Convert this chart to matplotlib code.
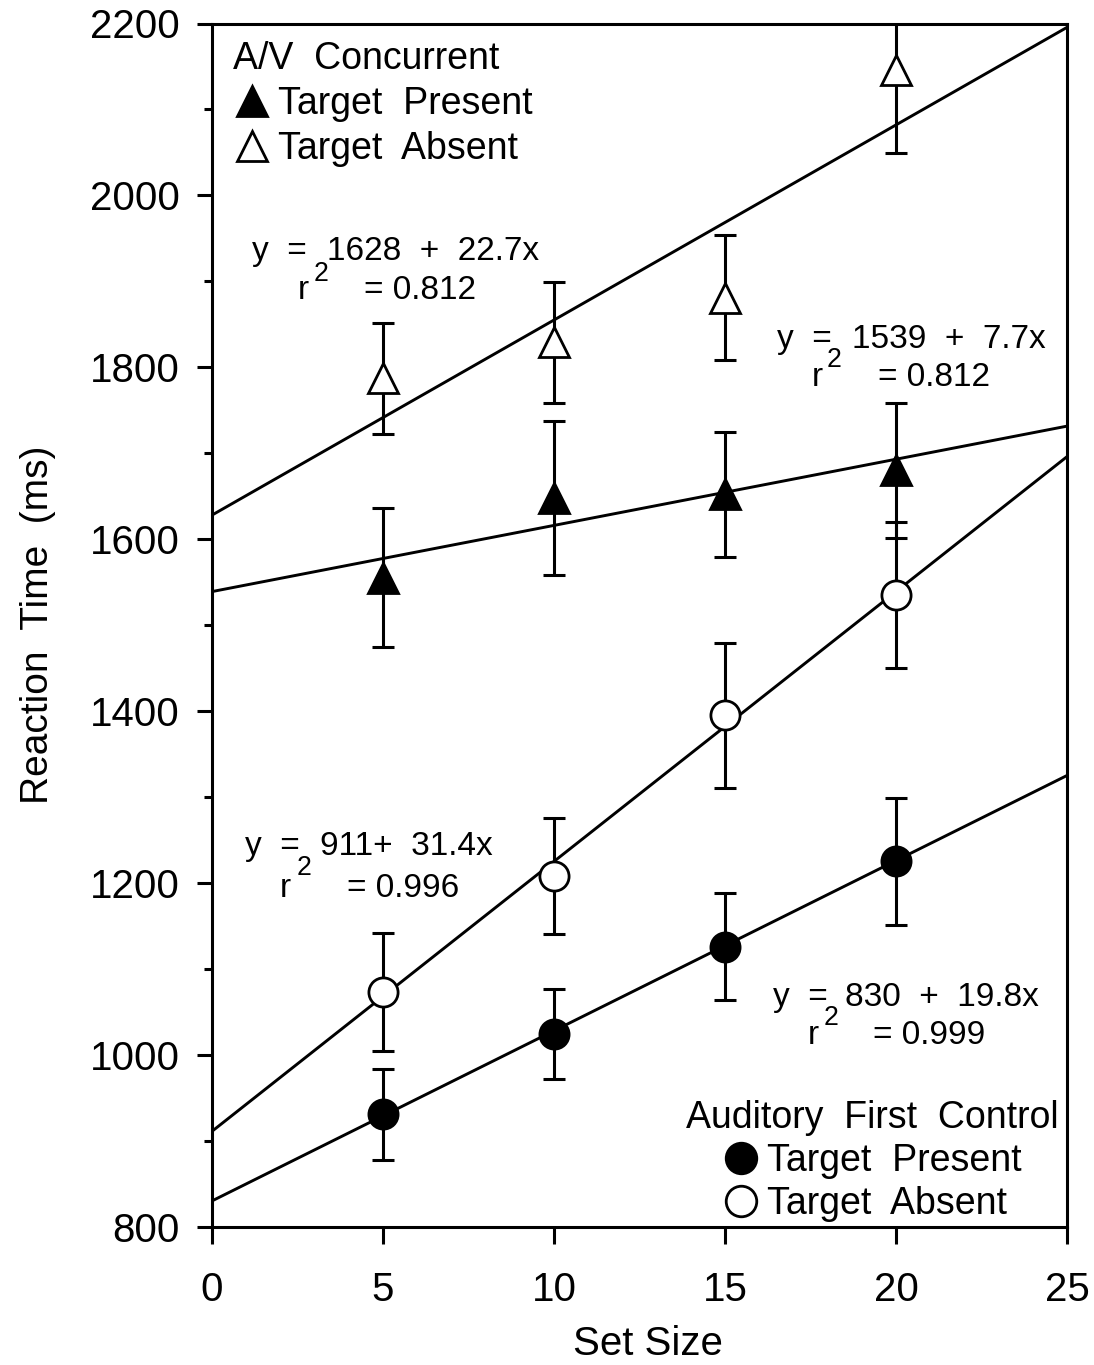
import numpy as np
import matplotlib.pyplot as plt
from matplotlib.lines import Line2D

plt.rcParams['font.family'] = ['Liberation Sans', 'DejaVu Sans']

# set sizes on the x axis
set_sizes = [5, 10, 15, 20]

# A/V concurrent condition (ms)
av_present = [1555, 1648, 1652, 1680]
av_present_err = [81, 90, 73, 79]
av_absent = [1787, 1829, 1881, 2146]
av_absent_err = [65, 70, 73, 97]

# auditory first control condition (ms)
aud_present = [931, 1024, 1126, 1225]
aud_present_err = [53, 52, 62, 74]
aud_absent = [1073, 1208, 1395, 1535]
aud_absent_err = [69, 67, 84, 85]

# regression fits, order: AV absent, AV present, Aud absent, Aud present
fit_intercepts = [1628, 1539, 911, 830]
fit_slopes = [22.7, 7.7, 31.4, 19.8]
fit_r2 = ["0.812", "0.812", "0.996", "0.999"]
fit_labels = ["1628  +  22.7x", "1539  +  7.7x", "911+  31.4x", "830  +  19.8x"]

x_ticks = [0, 5, 10, 15, 20, 25]
y_ticks = [800, 1000, 1200, 1400, 1600, 1800, 2000, 2200]

fig = plt.figure(figsize=(10.94, 13.65), dpi=100)
ax = fig.add_axes([212 / 1094, 1 - 1226.7 / 1365, 855 / 1094, 1203.2 / 1365])

# fitted lines across the whole x range
xfit = np.array([0, 25])
for b0, b1 in zip(fit_intercepts, fit_slopes):
    ax.plot(xfit, b0 + b1 * xfit, color='black', lw=2.1, zorder=2)

ms = 21
series = [
    (av_absent, av_absent_err, '^', 'white'),
    (av_present, av_present_err, '^', 'black'),
    (aud_absent, aud_absent_err, 'o', 'white'),
    (aud_present, aud_present_err, 'o', 'black'),
]
for vals, errs, mk, fc in series:
    ax.errorbar(set_sizes, vals, yerr=errs, fmt='none', ecolor='black',
                elinewidth=2.2, capsize=8, capthick=2.2, zorder=3)
    ax.plot(set_sizes, vals, linestyle='none', marker=mk, ms=ms,
            mfc=fc, mec='black', mew=2.0, zorder=4)

# equation annotations (data coords)
eq_pos = [
    # (x of "y =", line1 y, x of number, x of r, line2 y, x of 2, y of 2, x of "= r2")
    (1.17, 1935, 3.36, 2.51, 1889, 2.96, 1909, 4.44),
    (16.52, 1832, 18.71, 17.54, 1788, 17.98, 1808, 19.47),
    (0.96, 1242, 3.16, 1.99, 1194, 2.47, 1217, 3.95),
    (16.40, 1067, 18.51, 17.43, 1023, 17.87, 1043, 19.33),
]
fs_eq = 24
for (xy, y1, xn, xr, y2, x2, ys, xe), lab, r2 in zip(eq_pos, fit_labels, fit_r2):
    ax.text(xy, y1, "y  =", fontsize=fs_eq, ha='left', va='center')
    ax.text(xn, y1, lab, fontsize=fs_eq, ha='left', va='center')
    ax.text(xr, y2, "r", fontsize=fs_eq, ha='left', va='center')
    ax.text(x2, ys, "2", fontsize=fs_eq * 0.8, ha='left', va='center')
    ax.text(xe, y2, "= " + r2, fontsize=fs_eq, ha='left', va='center')

# legends
leg_fs = 27
h_tp = Line2D([], [], ls='none', marker='^', ms=ms, mfc='black', mec='black', mew=2)
h_ta = Line2D([], [], ls='none', marker='^', ms=ms, mfc='white', mec='black', mew=2)
leg1 = ax.legend([h_tp, h_ta], ["Target  Present", "Target  Absent"],
                 title="A/V  Concurrent", title_fontsize=leg_fs, fontsize=leg_fs,
                 loc='upper left', bbox_to_anchor=(0.0246, 0.9855),
                 frameon=False, borderpad=0, borderaxespad=0, handlelength=1.0,
                 handletextpad=0.2, labelspacing=0.24, alignment='left')
ax.add_artist(leg1)

c_tp = Line2D([], [], ls='none', marker='o', ms=ms + 1, mfc='black', mec='black', mew=2)
c_ta = Line2D([], [], ls='none', marker='o', ms=ms + 1, mfc='white', mec='black', mew=2)
ax.legend([c_tp, c_ta], ["Target  Present", "Target  Absent"],
          title="Auditory  First  Control", title_fontsize=leg_fs, fontsize=leg_fs,
          loc='lower right', bbox_to_anchor=(0.99, 0.004),
          frameon=False, borderpad=0, borderaxespad=0, handlelength=1.0,
          handletextpad=0.2, labelspacing=0.18)

ax.set_xlim(0, 25)
ax.set_ylim(800, 2200)
ax.set_xticks(x_ticks)
ax.set_yticks(y_ticks)
ax.set_yticks(np.arange(900, 2200, 100), minor=True)

for sp in ax.spines.values():
    sp.set_linewidth(2.2)
ax.tick_params(axis='y', which='major', direction='out', length=11, width=2.2,
               labelsize=29, pad=12)
ax.tick_params(axis='y', which='minor', direction='out', length=6, width=2.2)
ax.tick_params(axis='x', which='major', direction='out', length=12, width=2.2,
               labelsize=29, pad=20)

fig.text(648 / 1094, 1 - 1344 / 1365, "Set Size", fontsize=29, ha='center', va='center')
fig.text(38 / 1094, 1 - 625 / 1365, "Reaction  Time  (ms)", fontsize=28,
         rotation=90, ha='center', va='center')

fig.savefig('out.png', dpi=100)
